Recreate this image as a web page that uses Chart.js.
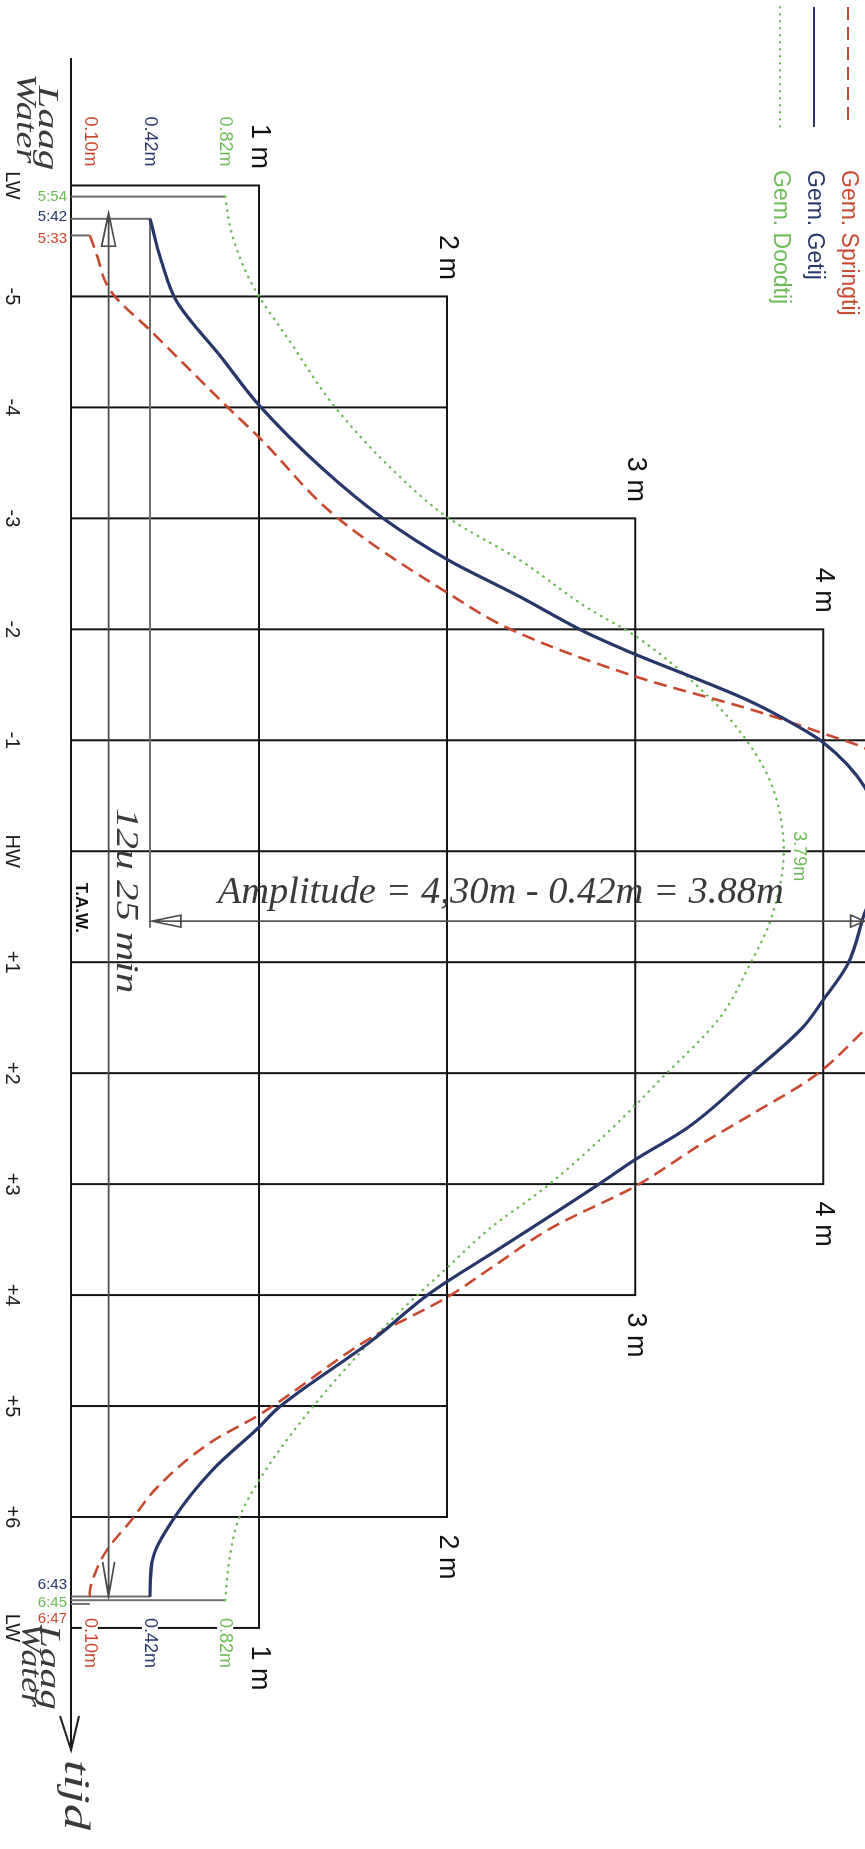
<!DOCTYPE html>
<html>
<head>
<meta charset="utf-8">
<script src="https://cdn.jsdelivr.net/npm/chart.js@4.4.1/dist/chart.umd.min.js"></script>
<style>
  html, body { margin: 0; padding: 0; width: 865px; height: 1849px; overflow: hidden; background: #fff; }
  /* de grafiek wordt liggend getekend en een kwartslag gedraaid */
  #tide { position: absolute; left: 0; top: 0; transform-origin: 0 0; transform: translate(1000px, 0) rotate(90deg); }
</style>
</head>
<body>
<canvas id="tide" width="1849" height="1000"></canvas>
<script>
// uren t.o.v. hoogwater
const hourTicks  = [-6, -5, -4, -3, -2, -1, 0, 1, 2, 3, 4, 5, 6, 7];
const hourLabels = ['LW', '-5', '-4', '-3', '-2', '-1', 'HW', '+1', '+2', '+3', '+4', '+5', '+6', 'LW'];
// tot welke meterlijn elke uurlijn doorloopt (5 = tot aan de rand)
const hourReach  = [1, 2, 2, 3, 4, 5, 5, 5, 5, 4, 3, 2, 2, 1];
const meterLines  = [1, 2, 3, 4];
const meterLabels = ['1 m', '2 m', '3 m', '4 m'];

const seriesNames = ['Gem. Springtij', 'Gem. Getij', 'Gem. Doodtij'];
const lwLevels = [0.10, 0.42, 0.82];
const lwBefore = ['5:33', '5:42', '5:54'];
const lwAfter  = ['6:47', '6:43', '6:45'];
const neapHighLabel = '3.79m';
const neapHigh = 3.79;

// Gem. Springtij
const springTimes  = [-5.55, -5.41, -5.05, -4.68, -3.99, -3.73, -3.00, -2.32, -1.99, -1.57, -1.27, -1.05, -0.93, -0.60, -0.20, 0.30, 0.80, 1.20, 1.61, 2.03, 2.36, 2.63, 3.02, 3.39, 3.76, 4.02, 4.38, 5.08, 5.33, 5.73, 6.03, 6.30, 6.50, 6.68, 6.78];
const springLevels = [0.10, 0.13, 0.21, 0.43, 0.84, 1.00, 1.42, 2.01, 2.35, 3.01, 3.63, 4.02, 4.22, 4.48, 4.66, 4.74, 4.66, 4.47, 4.22, 3.95, 3.63, 3.36, 3.00, 2.56, 2.23, 2.00, 1.60, 1.00, 0.74, 0.46, 0.32, 0.19, 0.13, 0.10, 0.10];
// Gem. Getij
const meanTimes  = [-5.70, -5.32, -4.96, -4.45, -4.02, -3.46, -3.00, -2.62, -2.30, -1.97, -1.81, -1.36, -1.12, -0.98, -0.58, -0.25, 0.00, 0.25, 0.56, 1.02, 1.34, 1.59, 2.03, 2.49, 2.78, 3.02, 3.59, 3.89, 4.02, 4.41, 5.02, 5.19, 5.58, 6.03, 6.41, 6.72];
const meanLevels = [0.42, 0.48, 0.56, 0.80, 1.00, 1.33, 1.66, 2.01, 2.38, 2.74, 2.95, 3.60, 3.87, 4.00, 4.22, 4.28, 4.30, 4.29, 4.22, 4.13, 4.00, 3.89, 3.60, 3.28, 3.00, 2.79, 2.27, 1.99, 1.88, 1.60, 1.10, 1.00, 0.75, 0.54, 0.43, 0.42];
// Gem. Doodtij
const neapTimes  = [-5.90, -5.60, -5.26, -5.00, -4.63, -3.99, -3.34, -3.00, -2.62, -2.20, -1.93, -1.36, -0.98, -0.58, 0.00, 0.62, 1.02, 1.50, 2.03, 2.54, 3.02, 3.41, 3.77, 4.23, 5.02, 5.67, 6.03, 6.41, 6.75];
const neapLevels = [0.82, 0.85, 0.92, 1.00, 1.15, 1.41, 1.77, 2.01, 2.39, 2.74, 3.01, 3.41, 3.60, 3.73, 3.79, 3.72, 3.61, 3.45, 3.15, 2.85, 2.53, 2.22, 1.99, 1.70, 1.28, 1.00, 0.89, 0.84, 0.82];

const amplitudeText = 'Amplitude = 4,30m - 0.42m = 3.88m';
const cycleText = '12u 25 min';

const seriesColors = ['#c8492f', '#27376b', '#6dbc57'];
const grayLine = '#6e6e6e';
const penColor = '#3a3a3a';
const amplitudeTime = 0.63;

function hm(s) {
  const p = s.split(':').map(Number);
  return p[0] + p[1] / 60;
}
function toPoints(times, levels) {
  return times.map((t, i) => ({ x: t, y: levels[i] }));
}

const datasets = [
  { label: seriesNames[0], data: toPoints(springTimes, springLevels), borderColor: seriesColors[0], borderWidth: 2.6, borderDash: [13, 7], cubicInterpolationMode: 'monotone', order: 1 },
  { label: seriesNames[1], data: toPoints(meanTimes, meanLevels), borderColor: seriesColors[1], borderWidth: 3.2, borderDash: [], cubicInterpolationMode: 'monotone', order: 0 },
  { label: seriesNames[2], data: toPoints(neapTimes, neapLevels), borderColor: seriesColors[2], borderWidth: 2.4, borderDash: [0.5, 6.5], borderCapStyle: 'round', cubicInterpolationMode: 'monotone', order: 2 }
];
// grijze laagwaterlijnen
lwLevels.forEach((lvl, i) => {
  const tb = -hm(lwBefore[i]);
  const before = [{ x: tb, y: 0 }, { x: tb, y: lvl }];
  if (i === 1) before.push({ x: amplitudeTime + 0.06, y: lvl });
  datasets.push({ data: before, borderColor: grayLine, borderWidth: 2, order: 3 });
  const ta = hm(lwAfter[i]);
  datasets.push({ data: [{ x: ta, y: 0 }, { x: ta, y: lvl }], borderColor: grayLine, borderWidth: 2, order: 3 });
});
datasets.forEach(d => { d.showLine = true; d.pointRadius = 0; d.fill = false; });

const SANS = '"Liberation Sans", Arial, sans-serif';
const HAND = '"Liberation Serif", serif';

function fitText(ctx, text, x, y, width) {
  const w = ctx.measureText(text).width;
  ctx.save();
  ctx.translate(x, y);
  ctx.scale(width / w, 1);
  ctx.fillText(text, 0, 0);
  ctx.restore();
}
// tekst die op het scherm horizontaal staat
function screenText(ctx, text, x, y, align) {
  ctx.save();
  ctx.translate(x, y);
  ctx.rotate(-Math.PI / 2);
  ctx.textAlign = align;
  ctx.fillText(text, 0, 0);
  ctx.restore();
}

const tideDecor = {
  id: 'tideDecor',
  beforeDatasetsDraw(chart) {
    const ctx = chart.ctx;
    const px = t => chart.scales.x.getPixelForValue(t);
    const py = h => chart.scales.y.getPixelForValue(h);
    ctx.save();

    // trapvormig rooster
    ctx.strokeStyle = '#151515';
    ctx.lineWidth = 2;
    ctx.lineCap = 'square';
    ctx.beginPath();
    hourTicks.forEach((t, i) => {
      ctx.moveTo(px(t), py(0));
      ctx.lineTo(px(t), py(hourReach[i]));
    });
    const spans = meterLines.map(m => hourTicks.filter((t, i) => hourReach[i] >= m));
    meterLines.forEach((m, k) => {
      ctx.moveTo(px(spans[k][0]), py(m));
      ctx.lineTo(px(spans[k][spans[k].length - 1]), py(m));
    });
    ctx.stroke();

    ctx.fillStyle = '#111';
    ctx.font = '27px ' + SANS;
    ctx.textAlign = 'center';
    ctx.textBaseline = 'middle';
    meterLines.forEach((m, k) => {
      ctx.fillText(meterLabels[k], px(spans[k][0]) - 39, py(m));
      ctx.fillText(meterLabels[k], px(spans[k][spans[k].length - 1]) + 40, py(m));
    });

    // laagwaterhoogtes boven en onder
    ctx.font = '18px ' + SANS;
    lwLevels.forEach((lvl, i) => {
      const txt = lvl.toFixed(2) + 'm';
      ctx.fillStyle = seriesColors[i];
      ctx.fillText(txt, px(-6) - 44, py(lvl));
      const w = ctx.measureText(txt).width;
      ctx.fillStyle = '#fff';
      ctx.fillRect(px(7) + 15 - w / 2 - 4, py(lvl) - 8, w + 8, 16);
      ctx.fillStyle = seriesColors[i];
      ctx.fillText(txt, px(7) + 15, py(lvl));
    });
    // hoogwater doodtij
    {
      const w = ctx.measureText(neapHighLabel).width;
      ctx.fillStyle = '#fff';
      ctx.fillRect(px(0) + 5 - w / 2 - 4, py(neapHigh + 0.08) - 8, w + 8, 16);
      ctx.fillStyle = seriesColors[2];
      ctx.fillText(neapHighLabel, px(0) + 5, py(neapHigh + 0.08));
    }

    // T.A.W.
    ctx.fillStyle = '#111';
    ctx.font = 'bold 17px ' + SANS;
    ctx.fillText('T.A.W.', px(0.51), py(0.05));

    // tijdstippen van laagwater
    ctx.font = '15px ' + SANS;
    ctx.textBaseline = 'middle';
    const nudgeBefore = [3, -2, 0];
    const nudgeAfter = [15, -12, 3];
    lwLevels.forEach((lvl, i) => {
      ctx.fillStyle = seriesColors[i];
      screenText(ctx, lwBefore[i], px(-hm(lwBefore[i])) + nudgeBefore[i], py(0) + 4, 'right');
      screenText(ctx, lwAfter[i], px(hm(lwAfter[i])) + nudgeAfter[i], py(0) + 4, 'right');
    });
    ctx.restore();
  },

  afterDatasetsDraw(chart) {
    const ctx = chart.ctx;
    const px = t => chart.scales.x.getPixelForValue(t);
    const py = h => chart.scales.y.getPixelForValue(h);
    ctx.save();

    // pijl op de tijdas
    ctx.strokeStyle = '#222';
    ctx.lineWidth = 2;
    ctx.beginPath();
    ctx.moveTo(px(8.1) - 34, py(0) - 8);
    ctx.lineTo(px(8.1), py(0));
    ctx.lineTo(px(8.1) - 34, py(0) + 11);
    ctx.stroke();

    // handgetekende pijlen
    ctx.strokeStyle = '#4a4a4a';
    ctx.lineWidth = 1.6;
    const dv = py(0.2);
    const tTop = px(-5.75), tBot = px(6.72);
    ctx.beginPath();
    ctx.moveTo(tTop, dv);
    ctx.lineTo(tBot, dv);
    ctx.moveTo(tTop, dv);
    ctx.lineTo(tTop + 33, dv - 7);
    ctx.lineTo(tTop + 33, dv + 7);
    ctx.closePath();
    ctx.moveTo(tBot - 35, dv - 6);
    ctx.lineTo(tBot, dv);
    ctx.lineTo(tBot - 35, dv + 6);
    ctx.stroke();

    const au = px(amplitudeTime);
    const aL = py(0.43), aR = py(4.22);
    ctx.beginPath();
    ctx.moveTo(au, aL);
    ctx.lineTo(au, aR);
    ctx.moveTo(au, aL);
    ctx.lineTo(au - 6, aL - 29);
    ctx.lineTo(au + 6, aL - 29);
    ctx.closePath();
    ctx.moveTo(au - 6, aR + 14);
    ctx.lineTo(au, aR);
    ctx.lineTo(au + 6, aR + 14);
    ctx.closePath();
    ctx.stroke();

    // handgeschreven tekst
    ctx.fillStyle = penColor;
    ctx.textAlign = 'left';
    ctx.textBaseline = 'alphabetic';
    ctx.font = 'italic 38px ' + HAND;
    ctx.save();
    ctx.translate(px(0.47), py(0.78));
    ctx.rotate(-Math.PI / 2);
    fitText(ctx, amplitudeText, 0, 0, py(0.78) - py(3.79));
    ctx.restore();

    ctx.textBaseline = 'middle';
    ctx.font = 'italic 32px ' + HAND;
    fitText(ctx, cycleText, px(-0.39), py(0.29), px(1.28) - px(-0.39));

    ctx.font = 'italic 30px ' + HAND;
    fitText(ctx, 'Laag', px(-6) - 100, py(0) + 24, 85);
    fitText(ctx, 'Water', px(-6) - 112, py(0) + 46, 90);
    fitText(ctx, 'Laag', px(7) - 3, py(0) + 22, 85);
    fitText(ctx, 'Water', px(7) - 5, py(0) + 41, 84);
    ctx.font = 'italic 36px ' + HAND;
    fitText(ctx, 'tijd', px(8.1) + 10, py(0) - 3, 70);

    // legende
    chart.data.datasets.slice(0, 3).forEach((ds, i) => {
      const v = 152 + i * 34;
      ctx.strokeStyle = ds.borderColor;
      ctx.lineWidth = 2.2;
      ctx.lineCap = ds.borderCapStyle || 'butt';
      ctx.setLineDash(ds.borderDash || []);
      ctx.beginPath();
      ctx.moveTo(7, v);
      ctx.lineTo(127, v);
      ctx.stroke();
      ctx.setLineDash([]);
      ctx.fillStyle = ds.borderColor;
      ctx.font = '23px ' + SANS;
      ctx.textAlign = 'left';
      ctx.textBaseline = 'middle';
      ctx.fillText(ds.label, 170, v);
    });
    ctx.restore();
  }
};

Chart.defaults.font.family = SANS;

new Chart(document.getElementById('tide').getContext('2d'), {
  type: 'scatter',
  data: { datasets: datasets },
  plugins: [tideDecor],
  options: {
    responsive: false,
    animation: false,
    devicePixelRatio: 1,
    events: [],
    layout: { padding: { left: 59, right: 99, top: 0, bottom: 0 } },
    plugins: { legend: { display: false }, tooltip: { enabled: false } },
    scales: {
      x: {
        type: 'linear',
        position: 'bottom',
        min: -7.14,
        max: 8.1,
        grid: { display: false },
        border: { display: true, color: '#151515', width: 2 },
        afterBuildTicks: s => { s.ticks = hourTicks.map(v => ({ value: v })); },
        afterFit: s => { s.height = 71; },
        ticks: {
          autoSkip: false,
          maxRotation: 0,
          padding: 39,
          color: '#1a1a1a',
          font: { size: 20 },
          callback: (v, i) => hourLabels[i]
        }
      },
      y: {
        type: 'linear',
        display: false,
        min: 0,
        max: 4.94
      }
    }
  }
});
</script>
</body>
</html>
